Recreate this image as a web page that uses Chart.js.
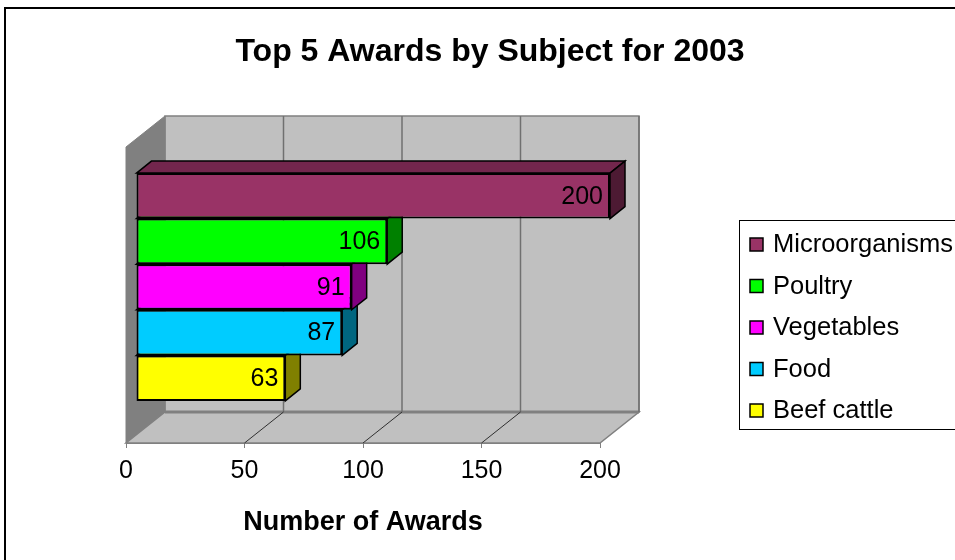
<!DOCTYPE html>
<html>
<head>
<meta charset="utf-8">
<script src="https://cdn.jsdelivr.net/npm/chart.js@4.4.0/dist/chart.umd.min.js"></script>
<style>
  html, body { margin: 0; padding: 0; background: #fff; overflow: hidden; }
  #wrap { width: 955px; height: 560px; }
</style>
</head>
<body>
<div id="wrap"><canvas id="awardsChart" width="955" height="560"></canvas></div>
<script>
// data
const subjects = ['Microorganisms', 'Poultry', 'Vegetables', 'Food', 'Beef cattle'];
const awards = [200, 106, 91, 87, 63];
const barColors = ['#993366', '#00FF00', '#FF00FF', '#00CCFF', '#FFFF00'];
const xTicks = [0, 50, 100, 150, 200];
const chartTitle = 'Top 5 Awards by Subject for 2003';
const axisTitle = 'Number of Awards';

const FONT = "'Liberation Sans', Arial, sans-serif";
// 3d look: depth of the whole box, and where the bars sit inside it
const DEPTH = { x: 39, y: -31 };
const BAR_SHIFT = { x: 10, y: -8 };
const BAR_DEPTH = { x: 15, y: -12 };

function shade(hex, f) {
    var n = parseInt(hex.slice(1), 16);
    var r = Math.round(((n >> 16) & 255) * f);
    var g = Math.round(((n >> 8) & 255) * f);
    var b = Math.round((n & 255) * f);
    return 'rgb(' + r + ',' + g + ',' + b + ')';
}

function poly(ctx, pts, fill, stroke, lw) {
    ctx.beginPath();
    ctx.moveTo(pts[0][0], pts[0][1]);
    for (var i = 1; i < pts.length; i++) ctx.lineTo(pts[i][0], pts[i][1]);
    ctx.closePath();
    if (fill) { ctx.fillStyle = fill; ctx.fill(); }
    if (stroke) { ctx.strokeStyle = stroke; ctx.lineWidth = lw || 1; ctx.stroke(); }
}

const box3d = {
    id: 'box3d',
    beforeDatasetsDraw(chart) {
        const ctx = chart.ctx;
        const a = chart.chartArea;
        const xs = chart.scales.x;
        const dx = DEPTH.x, dy = DEPTH.y;
        ctx.save();
        // back wall
        poly(ctx, [[a.left + dx, a.top + dy], [a.right + dx, a.top + dy], [a.right + dx, a.bottom + dy], [a.left + dx, a.bottom + dy]], '#c0c0c0', '#808080', 1.5);
        // left wall
        poly(ctx, [[a.left, a.top], [a.left + dx, a.top + dy], [a.left + dx, a.bottom + dy], [a.left, a.bottom]], '#808080', '#808080', 1);
        // floor
        poly(ctx, [[a.left, a.bottom], [a.right, a.bottom], [a.right + dx, a.bottom + dy], [a.left + dx, a.bottom + dy]], '#c0c0c0', '#808080', 1.5);
        ctx.beginPath();
        ctx.moveTo(a.left + dx, a.bottom + dy);
        ctx.lineTo(a.right + dx, a.bottom + dy);
        ctx.strokeStyle = '#808080';
        ctx.lineWidth = 3;
        ctx.stroke();
        // grid lines on wall and floor
        xTicks.forEach(function (v) {
            if (v === xTicks[0]) return;
            var px = xs.getPixelForValue(v);
            ctx.beginPath();
            ctx.moveTo(px + dx, a.top + dy);
            ctx.lineTo(px + dx, a.bottom + dy);
            ctx.strokeStyle = '#707070';
            ctx.lineWidth = 1.5;
            ctx.stroke();
            if (v !== xTicks[xTicks.length - 1]) {
                ctx.beginPath();
                ctx.moveTo(px, a.bottom);
                ctx.lineTo(px + dx, a.bottom + dy);
                ctx.strokeStyle = '#303030';
                ctx.lineWidth = 1;
                ctx.stroke();
            }
        });
        ctx.restore();

        // bars sit a bit inside the box
        ctx.save();
        ctx.translate(BAR_SHIFT.x, BAR_SHIFT.y);
        for (var i = chart.data.datasets.length - 1; i >= 0; i--) {
            var bar = chart.getDatasetMeta(i).data[0];
            var col = chart.data.datasets[i].backgroundColor;
            var top = bar.y - bar.height / 2, bot = bar.y + bar.height / 2;
            var ex = bar.x, bx = bar.base;
            poly(ctx, [[bx, top], [bx + BAR_DEPTH.x, top + BAR_DEPTH.y], [ex + BAR_DEPTH.x, top + BAR_DEPTH.y], [ex, top]], shade(col, 0.75), '#000', 1.5);
            poly(ctx, [[ex, top], [ex + BAR_DEPTH.x, top + BAR_DEPTH.y], [ex + BAR_DEPTH.x, bot + BAR_DEPTH.y], [ex, bot]], shade(col, 0.5), '#000', 1.5);
        }
    },
    afterDatasetsDraw(chart) {
        const ctx = chart.ctx;
        ctx.font = '25px ' + FONT;
        ctx.fillStyle = '#000';
        ctx.textAlign = 'right';
        ctx.textBaseline = 'middle';
        chart.data.datasets.forEach(function (ds, i) {
            var bar = chart.getDatasetMeta(i).data[0];
            ctx.fillText(String(ds.data[0]), bar.x - 7, bar.y + 1);
        });
        ctx.restore();
    },
    afterDraw(chart) {
        const ctx = chart.ctx;
        ctx.save();
        // outer frame
        ctx.strokeStyle = '#000';
        ctx.lineWidth = 2;
        ctx.strokeRect(5, 8, 2000, 2000);
        // title
        ctx.font = 'bold 32px ' + FONT;
        ctx.fillStyle = '#000';
        ctx.textAlign = 'center';
        ctx.textBaseline = 'alphabetic';
        ctx.fillText(chartTitle, 490, 61);
        // legend
        var lx = 740, ly = 221, rowH = 41.5;
        ctx.lineWidth = 1;
        ctx.strokeRect(lx - 0.5, ly - 0.5, 400, 209);
        ctx.font = '25.5px ' + FONT;
        ctx.textAlign = 'left';
        ctx.textBaseline = 'middle';
        chart.data.datasets.forEach(function (ds, i) {
            var cy = ly + 23 + i * rowH;
            ctx.fillStyle = ds.backgroundColor;
            ctx.fillRect(lx + 10, cy - 6, 13, 13);
            ctx.strokeStyle = '#000';
            ctx.lineWidth = 1.5;
            ctx.strokeRect(lx + 10, cy - 6, 13, 13);
            ctx.fillStyle = '#000';
            ctx.fillText(ds.label, lx + 33, cy + 1);
        });
        ctx.restore();
    }
};

const datasets = subjects.map(function (name, i) {
    return {
        label: name,
        data: [awards[i]],
        backgroundColor: barColors[i],
        borderColor: '#000',
        borderWidth: 2,
        borderSkipped: false,
        clip: false
    };
});

new Chart(document.getElementById('awardsChart'), {
    type: 'bar',
    data: { labels: ['2003'], datasets: datasets },
    options: {
        indexAxis: 'y',
        responsive: false,
        animation: false,
        categoryPercentage: 0.77,
        barPercentage: 1.0,
        layout: { padding: { left: 126, right: 355, top: 147, bottom: 0 } },
        plugins: {
            legend: { display: false },
            title: { display: false },
            tooltip: { enabled: false }
        },
        scales: {
            x: {
                min: 0,
                max: 200,
                afterBuildTicks: function (s) { s.ticks = xTicks.map(function (v) { return { value: v }; }); },
                ticks: { color: '#000', font: { family: FONT, size: 25 }, padding: 8, maxRotation: 0 },
                grid: { drawOnChartArea: false, color: '#808080', tickLength: 5 },
                border: { color: '#808080' },
                title: {
                    display: true,
                    text: axisTitle,
                    color: '#000',
                    font: { family: FONT, size: 27, weight: 'bold' },
                    padding: { top: 0, bottom: 21 }
                },
                afterFit: function (s) { s.height = 117; }
            },
            y: { display: false }
        }
    },
    plugins: [box3d]
});
</script>
</body>
</html>
